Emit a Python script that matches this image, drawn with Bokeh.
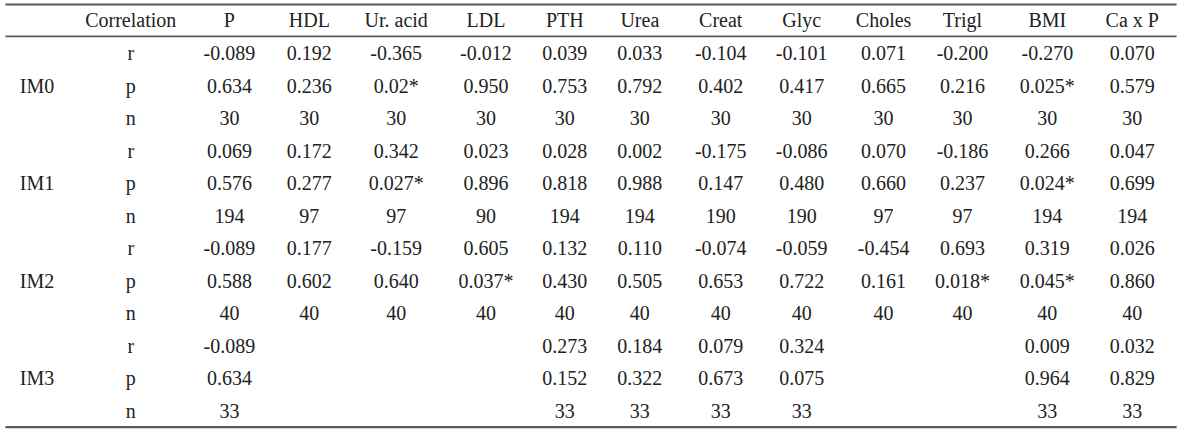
from bokeh.plotting import figure
from bokeh.models import Range1d, ColumnDataSource
from bokeh.core.properties import value
from bokeh.embed import file_html
from bokeh.resources import INLINE

# ---- data ----
header_left = "Correlation"
columns = ["P", "HDL", "Ur. acid", "LDL", "PTH", "Urea", "Creat", "Glyc",
           "Choles", "Trigl", "BMI", "Ca x P"]
groups = ["IM0", "IM1", "IM2", "IM3"]
stats = ["r", "p", "n"]

im0_r = ["-0.089", "0.192", "-0.365", "-0.012", "0.039", "0.033", "-0.104", "-0.101", "0.071", "-0.200", "-0.270", "0.070"]
im0_p = ["0.634", "0.236", "0.02*", "0.950", "0.753", "0.792", "0.402", "0.417", "0.665", "0.216", "0.025*", "0.579"]
im0_n = ["30", "30", "30", "30", "30", "30", "30", "30", "30", "30", "30", "30"]

im1_r = ["0.069", "0.172", "0.342", "0.023", "0.028", "0.002", "-0.175", "-0.086", "0.070", "-0.186", "0.266", "0.047"]
im1_p = ["0.576", "0.277", "0.027*", "0.896", "0.818", "0.988", "0.147", "0.480", "0.660", "0.237", "0.024*", "0.699"]
im1_n = ["194", "97", "97", "90", "194", "194", "190", "190", "97", "97", "194", "194"]

im2_r = ["-0.089", "0.177", "-0.159", "0.605", "0.132", "0.110", "-0.074", "-0.059", "-0.454", "0.693", "0.319", "0.026"]
im2_p = ["0.588", "0.602", "0.640", "0.037*", "0.430", "0.505", "0.653", "0.722", "0.161", "0.018*", "0.045*", "0.860"]
im2_n = ["40", "40", "40", "40", "40", "40", "40", "40", "40", "40", "40", "40"]

im3_r = ["-0.089", "", "", "", "0.273", "0.184", "0.079", "0.324", "", "", "0.009", "0.032"]
im3_p = ["0.634", "", "", "", "0.152", "0.322", "0.673", "0.075", "", "", "0.964", "0.829"]
im3_n = ["33", "", "", "", "33", "33", "33", "33", "", "", "33", "33"]

table = [[im0_r, im0_p, im0_n], [im1_r, im1_p, im1_n],
         [im2_r, im2_p, im2_n], [im3_r, im3_p, im3_n]]

# ---- layout (reference-image pixel coordinates, scaled to the figure) ----
W, H = 1184, 431
col_x = [232, 313, 401, 492, 572, 648, 730, 812, 895, 975, 1061, 1147]
stat_x = 132
group_x = 37
header_y = 20
row0_y = 53.5
row_step = 33.15
FONT = value("Liberation Serif")
SIZE = "20px"
TXT = "#222222"
RULE = "#5a5a5a"

sx = W / 1200.0
sy = H / 439.0

p = figure(width=W, height=H, output_backend="svg", toolbar_location=None,
           x_range=Range1d(0, W), y_range=Range1d(H, 0),
           min_border=0, outline_line_color=None)
p.axis.visible = False
p.grid.visible = False
p.background_fill_color = "white"
p.border_fill_color = "white"

xs, ys, ts = [], [], []
xs.append(stat_x * sx); ys.append(header_y * sy); ts.append(header_left)
for cx, c in zip(col_x, columns):
    xs.append(cx * sx); ys.append(header_y * sy); ts.append(c)
for gi, g in enumerate(groups):
    for si, s in enumerate(stats):
        ry = (row0_y + (gi * 3 + si) * row_step) * sy
        xs.append(stat_x * sx); ys.append(ry); ts.append(s)
        if si == 1:
            xs.append(group_x * sx); ys.append(ry); ts.append(g)
        for cx, v in zip(col_x, table[gi][si]):
            if v:
                xs.append(cx * sx); ys.append(ry); ts.append(v)

src = ColumnDataSource(dict(x=xs, y=ys, text=ts))
p.text(x="x", y="y", text="text", source=src, text_font=FONT,
       text_font_size=SIZE, text_color=TXT, text_align="center",
       text_baseline="middle")

rule_y = [4 * sy, 36.5 * sy, 434.5 * sy]
p.segment(x0=[5 * sx] * 3, y0=rule_y, x1=[1192 * sx] * 3,
          y1=rule_y, line_color=RULE, line_width=[2, 1.6, 2.2])

open("out.html", "w").write(file_html(p, INLINE))
